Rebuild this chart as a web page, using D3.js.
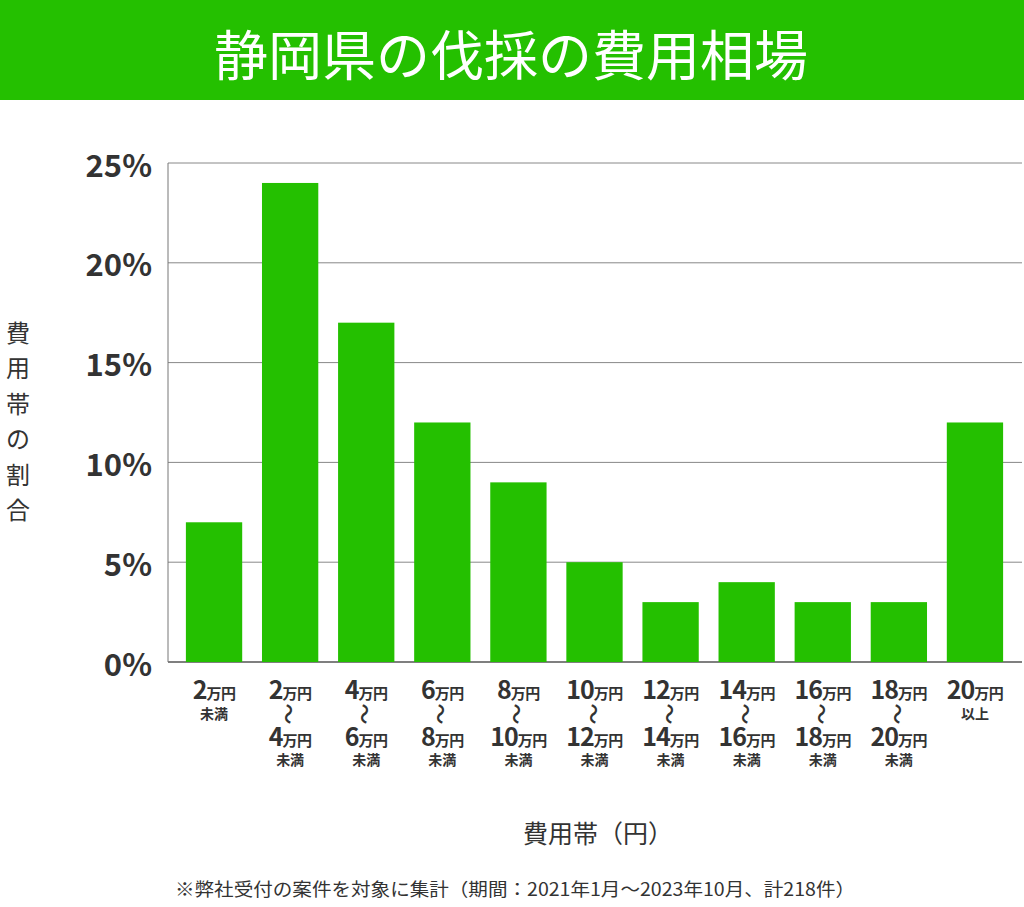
<!DOCTYPE html>
<html><head><meta charset="utf-8">
<script src="https://cdn.jsdelivr.net/npm/d3@7"></script>
<style>body{margin:0;background:#fff;} svg{display:block;font-family:"Noto Sans CJK JP","Noto Sans",sans-serif;}</style>
</head><body>
<script>
const titleText = "静岡県の伐採の費用相場";
const categories = ["<2","2-4","4-6","6-8","8-10","10-12","12-14","14-16","16-18","18-20","20+"];
const values = [7, 24, 17, 12, 9, 5, 3, 4, 3, 3, 12];
const labelTop = ["2","2","4","6","8","10","12","14","16","18","20"];
const labelBottom = [null,"4","6","8","10","12","14","16","18","20",null];
const labelSuffix = ["未満","未満","未満","未満","未満","未満","未満","未満","未満","未満","以上"];
const yTicks = [0, 5, 10, 15, 20, 25];
const yTitle = "費用帯の割合";
const xTitle = "費用帯（円）";
const footnote = "※弊社受付の案件を対象に集計（期間：2021年1月～2023年10月、計218件）";

const W = 1024, H = 907;
const green = "#24c000";
const svg = d3.select("body").append("svg").attr("width", W).attr("height", H);

svg.append("rect").attr("x",0).attr("y",0).attr("width",W).attr("height",100).attr("fill",green);
svg.append("text").attr("x",511).attr("y",52).attr("text-anchor","middle").attr("dominant-baseline","central")
  .attr("fill","#fff").attr("font-size",54).attr("font-weight",400).text(titleText);

const y = d3.scaleLinear().domain([0,25]).range([662,163]);
const x = d3.scaleBand().domain(categories).range([176,1013]).paddingInner(0.26).paddingOuter(0.13);

// grid
svg.append("g").selectAll("line").data(yTicks).join("line")
  .attr("x1",168).attr("x2",1022).attr("y1",d=>y(d)).attr("y2",d=>y(d))
  .attr("stroke",d=>d===0?"#555":"#888").attr("stroke-width",d=>d===0?1.5:1);
svg.append("line").attr("x1",168).attr("x2",168).attr("y1",y(25)).attr("y2",y(0)).attr("stroke","#777").attr("stroke-width",1);

svg.append("g").selectAll("text").data(yTicks).join("text")
  .attr("x",152).attr("y",d=>y(d)).attr("text-anchor","end").attr("dominant-baseline","central")
  .attr("font-size",31).attr("font-weight",700).attr("fill","#333").text(d=>d+"%");

svg.append("g").selectAll("rect").data(values).join("rect")
  .attr("x",(d,i)=>x(categories[i])).attr("width",x.bandwidth())
  .attr("y",d=>y(d)).attr("height",d=>y(0)-y(d)).attr("fill",green);

// x labels
const lg = svg.append("g").attr("fill","#333").attr("font-weight",700);
function amount(cx, yy, num) {
  const t = lg.append("text").attr("x",cx).attr("y",yy).attr("text-anchor","middle");
  t.append("tspan").attr("font-size",25).attr("letter-spacing",-1).text(num);
  t.append("tspan").attr("font-size",15).attr("letter-spacing",-0.5).text("万円");
}
categories.forEach((c,i)=>{
  const cx = x(c) + x.bandwidth()/2;
  amount(cx, 699, labelTop[i]);
  if (labelBottom[i]) {
    lg.append("text").attr("x",cx).attr("y",714).attr("text-anchor","middle").attr("dominant-baseline","central")
      .attr("font-size",21).attr("font-weight",500).text("〜")
      .attr("transform",`rotate(90,${cx},714)`);
    amount(cx, 746, labelBottom[i]);
    lg.append("text").attr("x",cx).attr("y",765).attr("text-anchor","middle").attr("font-size",14).text(labelSuffix[i]);
  } else {
    lg.append("text").attr("x",cx).attr("y",719).attr("text-anchor","middle").attr("font-size",14).text(labelSuffix[i]);
  }
});

// y title
svg.append("g").selectAll("text").data(Array.from(yTitle)).join("text")
  .attr("x",18).attr("y",(d,i)=>331+i*35.5).attr("text-anchor","middle").attr("dominant-baseline","central")
  .attr("font-size",24).attr("fill","#333").text(d=>d);

svg.append("text").attr("x",598).attr("y",832).attr("text-anchor","middle").attr("dominant-baseline","central")
  .attr("font-size",25).attr("fill","#333").text(xTitle);

svg.append("text").attr("x",515).attr("y",888).attr("text-anchor","middle").attr("dominant-baseline","central")
  .attr("font-size",18).attr("fill","#333").attr("textLength",680).attr("lengthAdjust","spacingAndGlyphs").text(footnote);
</script>
</body></html>
